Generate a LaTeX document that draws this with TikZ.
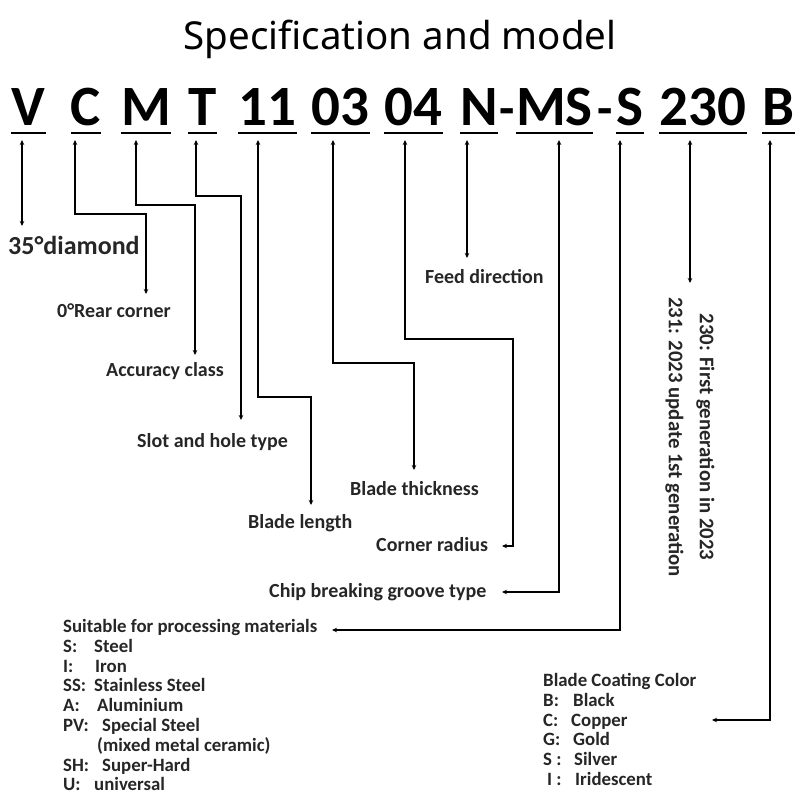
\documentclass[tikz,border=0pt]{standalone}
\usepackage{fontspec}
\setmainfont{Carlito}
\newfontfamily\titlefont{Noto Sans}
\usetikzlibrary{arrows.meta}

\tikzset{
  code/.style={font=\fontsize{57}{57}\selectfont\bfseries, inner sep=0pt, anchor=base},
  uline/.style={line width=2pt},
  lead/.style={<->, line width=1.6pt},
  lbl/.style={font=\fontsize{20}{20}\selectfont\bfseries, text=black!85, inner sep=0pt, anchor=base west},
  list/.style={font=\fontsize{18.8}{19.8}\selectfont\bfseries, text=black!85, inner sep=0pt, anchor=north west, align=left}
}

\begin{document}
\begin{tikzpicture}[x=1pt, y=-1pt, >={Stealth[length=5pt,width=4.5pt]}]
  \useasboundingbox (0,0) rectangle (800,800);

  \node[font=\titlefont\fontsize{38.5}{38.5}\selectfont, anchor=base] (title) at (400,50) {Specification and model};

  % model code
  \foreach \name/\txt/\x in {v/V/28.5, c/C/86, m/M/146, t/T/202.5, len/11/267.5, thk/03/340.5,
      rad/04/413.5, n/N/479, ms/MS/554.5, s/S/630, gen/230/703, col/B/778.5} {
    \node[code] (\name) at (\x,125) {\txt};
    \draw[uline] ([yshift=-8pt]\name.base west) -- ([yshift=-8pt]\name.base east);
  }
  \node[code, font=\fontsize{50}{50}\selectfont\bfseries] (hy1) at (507,125) {-};
  \node[code, font=\fontsize{50}{50}\selectfont\bfseries] (hy2) at (605,125) {-};

  % labels
  \node[lbl, font=\fontsize{26}{26}\selectfont\bfseries] (dia) at (8,254) {35°diamond};
  \node[lbl] (rear) at (57,317) {0°Rear corner};
  \node[lbl] (acc) at (106,376) {Accuracy class};
  \node[lbl] (slot) at (137,447) {Slot and hole type};
  \node[lbl] (blen) at (248,528) {Blade length};
  \node[lbl] (bthk) at (350,495) {Blade thickness};
  \node[lbl] (crad) at (376,551) {Corner radius};
  \node[lbl] (chip) at (269,597) {Chip breaking groove type};
  \node[lbl] (feed) at (425,283) {Feed direction};

  \node[lbl, anchor=center, rotate=-90, align=center, font=\fontsize{20.8}{31}\selectfont\bfseries] (gentxt) at (690,437)
    {230: First generation in 2023\\231: 2023 update 1st generation};

  \node[list] (mat) at (63,619) {Suitable for processing materials\\
    \makebox[31pt][l]{S:}Steel\\
    \makebox[32pt][l]{I:}Iron\\
    \makebox[31pt][l]{SS:}Stainless Steel\\
    \makebox[34pt][l]{A:}Aluminium\\
    \makebox[39pt][l]{PV:}Special Steel\\
    \hspace*{34pt}(mixed metal ceramic)\\
    \makebox[39pt][l]{SH:}Super-Hard\\
    \makebox[31pt][l]{U:}universal};

  \node[list] (coat) at (543,673) {Blade Coating Color\\
    \makebox[30pt][l]{B:}Black\\
    \makebox[28pt][l]{C:}Copper\\
    \makebox[30pt][l]{G:}Gold\\
    \makebox[31pt][l]{S :}Silver\\
    \makebox[32pt][l]{\hspace*{4pt}I :}Iridescent};

  % connectors
  \draw[lead] ([xshift=-6.5pt,yshift=-15pt]v.base) -- ++(0,86);
  \draw[lead] ([xshift=-11pt,yshift=-15pt]c.base) |- ++(71,74) -- ++(0,80);
  \draw[lead] ([xshift=-10pt,yshift=-15pt]m.base) |- ++(59,65) -- ++(0,150);
  \draw[lead] ([xshift=-6.5pt,yshift=-15pt]t.base) |- ++(45,56) -- ++(0,224);
  \draw[lead] ([xshift=-9.5pt,yshift=-15pt]len.base) |- ++(53,257) -- ++(0,108);
  \draw[lead] ([xshift=-7.5pt,yshift=-15pt]thk.base) |- ++(81,223) -- ++(0,107);
  \draw[lead] ([xshift=-8.5pt,yshift=-15pt]rad.base) |- ++(108,199) |- ++(-11,207);
  \draw[lead] ([xshift=-12pt,yshift=-15pt]n.base) -- ++(0,118);
  \draw[lead] ([xshift=4.5pt,yshift=-15pt]ms.base) |- ++(-57,452);
  \draw[lead] ([xshift=-10pt,yshift=-15pt]s.base) |- ++(-288,490);
  \draw[lead] ([xshift=-13pt,yshift=-15pt]gen.base) -- ++(0,143);
  \draw[lead] ([xshift=-8.5pt,yshift=-15pt]col.base) |- ++(-58,580);
\end{tikzpicture}
\end{document}
